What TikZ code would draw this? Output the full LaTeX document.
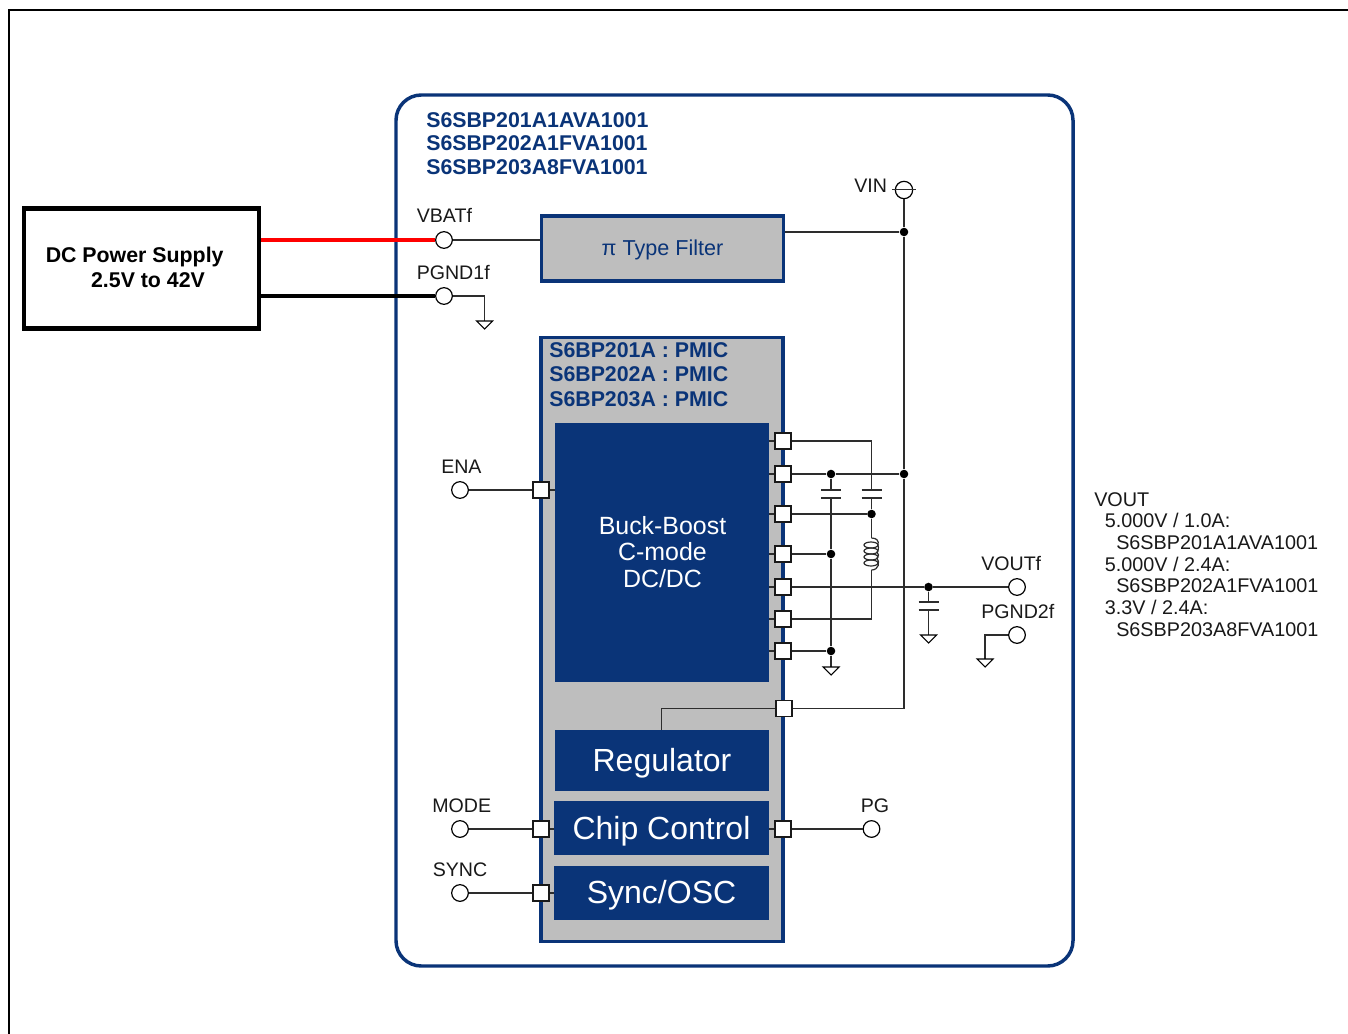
\documentclass[tikz,border=0pt]{standalone}
\usepackage{fontspec}
\setmainfont{Liberation Sans}
\usetikzlibrary{calc}
\definecolor{navy}{RGB}{10,52,120}
\definecolor{panel}{RGB}{190,190,190}
\definecolor{wirec}{RGB}{45,45,45}
\tikzset{
  x=0.75pt,y=-0.75pt,
  wire/.style={draw=wirec,line width=0.95pt},
  pin/.style={rectangle,draw=black!90,fill=white,line width=1.3pt,minimum size=12pt,inner sep=0pt},
  term/.style={circle,draw=black,fill=white,line width=0.9pt,minimum size=12.5pt,inner sep=0pt},
  dotj/.style={circle,fill=black,minimum size=6.4pt,inner sep=0pt},
  block/.style={rectangle,fill=navy,text=white,inner sep=0pt,align=center},
  lbl/.style={inner sep=0pt,font=\fontsize{14.7}{16}\selectfont,text=black!90},
  title/.style={inner sep=0pt,align=left,text=navy,font=\fontsize{16}{17.6}\bfseries\selectfont},
  plate/.style={draw=wirec,line width=1.05pt},
  gndt/.style={draw=black,fill=white,line width=0.8pt,line join=miter},
}
\newcommand{\gnd}[1]{\draw[gndt] ($(#1)+(-8,0)$) -- ($(#1)+(8,0)$) -- ($(#1)+(0,8)$) -- cycle;}
\newcommand{\capac}[1]{\draw[plate] ($(#1)+(-10,0)$) -- ($(#1)+(10,0)$) ($(#1)+(-10,8)$) -- ($(#1)+(10,8)$);}
\begin{document}
\begin{tikzpicture}
\useasboundingbox (0,0) rectangle (1348,1034);
\fill[white] (0,0) rectangle (1348,1034);
% outer frame
\draw[black,line width=1.5pt] (9,1034) -- (9,10.5) -- (1348,10.5);
% main board
\draw[navy,line width=2.6pt,rounded corners=19pt] (396,95) rectangle (1073,966);
\node[title,anchor=north west] (parts) at (426,112) {S6SBP201A1AVA1001\\S6SBP202A1FVA1001\\S6SBP203A8FVA1001};
% DC supply
\node[rectangle,draw=black,line width=3.2pt,minimum width=176pt,minimum height=90pt,inner sep=0pt] (dc) at (141.5,268.5) {};
\node[inner sep=0pt,align=left,anchor=north west,font=\fontsize{16}{18.75}\bfseries\selectfont] (dct) at (45.5,247) {DC Power Supply\\\hspace*{34pt}2.5V to 42V};
% filter
\node[rectangle,draw=navy,fill=panel,line width=2.8pt,minimum width=181.5pt,minimum height=48.5pt,inner sep=0pt,text=navy,text height=11pt,text depth=0pt,font=\fontsize{16.2}{18}\selectfont] (filter) at (662.5,248.5) {π Type Filter};
% PMIC panel
\node[rectangle,draw=navy,fill=panel,line width=2.8pt,minimum width=181pt,minimum height=453pt,inner sep=0pt] (pmic) at (662,639.5) {};
\node[title,anchor=north west,font=\fontsize{16}{18.2}\bfseries\selectfont] (pmict) at (549,342.5) {S6BP201A : PMIC\\S6BP202A : PMIC\\S6BP203A : PMIC};
% blocks
\node[block,minimum width=160.5pt,minimum height=194.2pt] (buck) at (662,552.5) {};
\node[inner sep=0pt,align=center,text=white,font=\fontsize{18.7}{19.9}\selectfont] (bucktxt) at (662.5,552) {Buck-Boost\\C-mode\\DC/DC};
\node[block,minimum width=160.5pt,minimum height=45.8pt,text height=17.2pt,text depth=0pt,font=\fontsize{24}{26}\selectfont] (reg) at (662,760.5) {Regulator};
\node[block,minimum width=161.2pt,minimum height=40.5pt,text height=17pt,text depth=0pt,font=\fontsize{24}{26}\selectfont] (chip) at (661.5,828) {Chip Control};
\node[block,minimum width=161.2pt,minimum height=40.5pt,text height=15.5pt,text depth=0pt,font=\fontsize{24}{26}\selectfont] (sync) at (661.5,893) {Sync/OSC};
% terminals
\node[term] (vbat) at (444,240) {};
\node[term] (pgnd1) at (444,296) {};
\node[term] (ena) at (460,490) {};
\node[term] (mode) at (460,829) {};
\node[term] (syncin) at (460,893) {};
\node[term] (pg) at (871.5,829) {};
\node[term] (vout) at (1017,587) {};
\node[term] (pgnd2) at (1017,635) {};
\node[term,minimum size=13pt] (vin) at (904,190) {};
% thick supply lines
\draw[red,line width=3pt] (dc.east |- vbat) -- (vbat.west);
\draw[black,line width=3pt] (dc.east |- pgnd1) -- (pgnd1.west);
% coordinates
\coordinate (g1) at (484.5,321);
\coordinate (vr) at (904,232);
\coordinate (g2) at (831,667);
\coordinate (g3) at (928.5,635);
\coordinate (g4) at (985,659);
\coordinate (c1) at (831,490);
\coordinate (c2) at (871.5,490);
\coordinate (c3) at (928.5,602);
\coordinate (ltop) at (871.5,538);
\coordinate (lbot) at (871.5,570);
\coordinate (vintickl) at (892,189.5);
\coordinate (vintickr) at (916,189.5);
% pins
\node[pin] (p1) at (783,441) {};
\node[pin] (p2) at (783,474) {};
\node[pin] (p3) at (783,514) {};
\node[pin] (p4) at (783,554) {};
\node[pin] (p5) at (783,587) {};
\node[pin] (p6) at (783,619) {};
\node[pin] (p7) at (783,651) {};
\node[pin] (p8) at (784,708.5) {};
\node[pin] (p9) at (783,829) {};
\node[pin] (penab) at (541,490) {};
\node[pin] (pmode) at (541,829) {};
\node[pin] (psync) at (541,893) {};
% junctions
\node[dotj] (jv) at (904,232) {};
\node[dotj] (jp2) at (904,474) {};
\node[dotj] (ja) at (831,474) {};
\node[dotj] (jb) at (871.5,514) {};
\node[dotj] (jc) at (831,554) {};
\node[dotj] (jd) at (831,651) {};
\node[dotj] (je) at (928.5,587) {};
% wires
\draw[wire] (vbat) -- (filter.west |- vbat);
\draw[wire] (pgnd1.east) -| (g1);
\draw[wire] (filter.east |- vr) -- (jv);
\draw[wire] (vin.south) -- (jv) -- (jp2) |- (p8.east);
\draw[wire] (p2) -- (ja) -- (jp2);
\draw[wire,line width=0.85pt] (p8.west) -| (reg.north -| 661.5,700);
\draw[wire] (p3) -- (jb);
\draw[wire] (p4) -- (jc);
\draw[wire] (p7) -- (jd);
\draw[wire] (p5) -- (je) -- (vout);
\draw[wire] (ja) -- (c1);
\draw[wire] ($(c1)+(0,8)$) -- (jc) -- (jd) -- (g2);
\draw[wire] (p1.east) -| (c2);
\draw[wire] ($(c2)+(0,8)$) -- (jb) -- (ltop);
\draw[wire] (lbot) |- (p6.east);
\draw[wire] (je) -- (c3);
\draw[wire] ($(c3)+(0,8)$) -- (g3);
\draw[wire] (pgnd2.west) -| (g4);
\draw[wire] (penab) -- (ena);
\draw[wire] (pmode) -- (mode);
\draw[wire] (psync) -- (syncin);
\draw[wire] (p9) -- (pg);
\draw[wire] (vintickl) -- (vintickr);
% pin stubs
\foreach \p in {p1,p2,p3,p4,p5,p6,p7}{\draw[wire] (buck.east |- \p) -- (\p.west);}
\draw[wire] (chip.east |- p9) -- (p9.west);
\draw[wire] (buck.west |- penab) -- (penab.east);
\draw[wire] (chip.west |- pmode) -- (pmode.east);
\draw[wire] (sync.west |- psync) -- (psync.east);
% symbols
\capac{c1} \capac{c2} \capac{c3}
\gnd{g1} \gnd{g2} \gnd{g3} \gnd{g4}
% inductor
\draw[wire,line width=0.9pt] (ltop) .. controls (877,538) and (879,541) .. (878,545)
   (878,545) .. controls (879,549) and (878,551) .. (877,552)
   (877,552) .. controls (879,554) and (879,556) .. (877,558)
   (877,558) .. controls (880,562) and (879,570) .. (lbot);
\fill[white] (864,542) rectangle (871,566);
\foreach \yy in {545,551,557,563}{\draw[wirec,line width=0.9pt] (871,\yy) ellipse [x radius=7,y radius=3];}
% labels
\node[lbl,anchor=base west] (lvbat) at (416.5,223) {VBATf};
\node[lbl,anchor=base west] (lpg1) at (416.5,279) {PGND1f};
\node[lbl,anchor=base west] (lvin) at (854,192.5) {VIN};
\node[lbl,anchor=base west] (lena) at (441,473) {ENA};
\node[lbl,anchor=base west] (lmode) at (432,812) {MODE};
\node[lbl,anchor=base west] (lsync) at (432.5,876) {SYNC};
\node[lbl,anchor=base west] (lpg) at (860.5,812) {PG};
\node[lbl,anchor=base west] (lvout) at (981,570) {VOUTf};
\node[lbl,anchor=base west] (lpg2) at (981,618) {PGND2f};
\node[inner sep=0pt,align=left,anchor=north west,text=black!90,font=\fontsize{14.85}{16.25}\selectfont] (voutlist) at (1094,492) {VOUT\\\hspace*{8pt}5.000V / 1.0A:\\\hspace*{16.5pt}S6SBP201A1AVA1001\\\hspace*{8pt}5.000V / 2.4A:\\\hspace*{16.5pt}S6SBP202A1FVA1001\\\hspace*{8pt}3.3V / 2.4A:\\\hspace*{16.5pt}S6SBP203A8FVA1001};
\end{tikzpicture}
\end{document}
